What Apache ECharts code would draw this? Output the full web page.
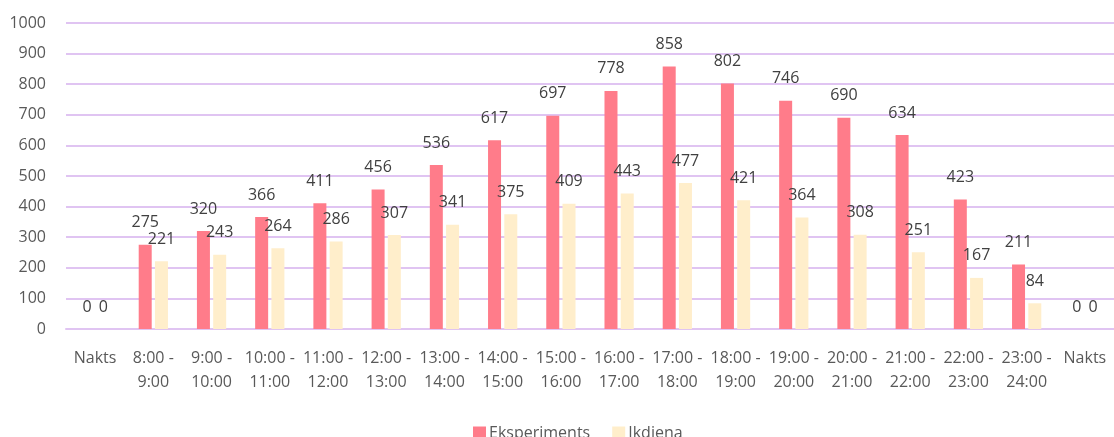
<!DOCTYPE html>
<html><head><meta charset="utf-8">
<script src="https://cdn.jsdelivr.net/npm/echarts@6/dist/echarts.min.js"></script>
<style>html,body{margin:0;padding:0;background:#fff}#c{width:1114px;height:437px}</style>
</head><body><div id="c"></div>
<script>
const categories = ["Nakts","8:00 -\n9:00","9:00 -\n10:00","10:00 -\n11:00","11:00 -\n12:00","12:00 -\n13:00","13:00 -\n14:00","14:00 -\n15:00","15:00 -\n16:00","16:00 -\n17:00","17:00 -\n18:00","18:00 -\n19:00","19:00 -\n20:00","20:00 -\n21:00","21:00 -\n22:00","22:00 -\n23:00","23:00 -\n24:00","Nakts"];
const eksperiments = [0,275,320,366,411,456,536,617,697,778,858,802,746,690,634,423,211,0];
const ikdiena = [0,221,243,264,286,307,341,375,409,443,477,421,364,308,251,167,84,0];
const font = "'Open Sans', 'Noto Sans', sans-serif";
const chart = echarts.init(document.getElementById('c'));
const lbl = {show:true, position:'top', distance:14, color:'#404040', fontSize:16, fontFamily:font};
chart.setOption({
  animation:false,
  grid:{left:66, right:0, top:23, bottom:108},
  legend:{bottom:-9, left:468, itemWidth:13, itemHeight:13, itemGap:22, icon:'rect',
    textStyle:{fontSize:16, color:'#595959', fontFamily:font, padding:[0,0,0,-2]}},
  xAxis:{type:'category', data:categories,
    axisLine:{show:true, lineStyle:{color:'#E0C4F2', width:2}},
    axisTick:{show:false},
    axisLabel:{interval:0, color:'#595959', fontSize:16, fontFamily:font, lineHeight:24, margin:17}},
  yAxis:{type:'value', min:0, max:1000, interval:100,
    axisLine:{show:false}, axisTick:{show:false},
    splitLine:{lineStyle:{color:'#E0C4F2', width:2}},
    axisLabel:{color:'#595959', fontSize:16, fontFamily:font, margin:20, formatter:function(v){return String(v);}}},
  series:[
    {name:'Eksperiments', type:'bar', data:eksperiments, barWidth:13, barGap:'25%',
     itemStyle:{color:'#FF7C8A'}, label:lbl},
    {name:'Ikdiena', type:'bar', data:ikdiena, barWidth:13,
     itemStyle:{color:'#FFEECB'}, label:lbl}
  ]
});
</script></body></html>
